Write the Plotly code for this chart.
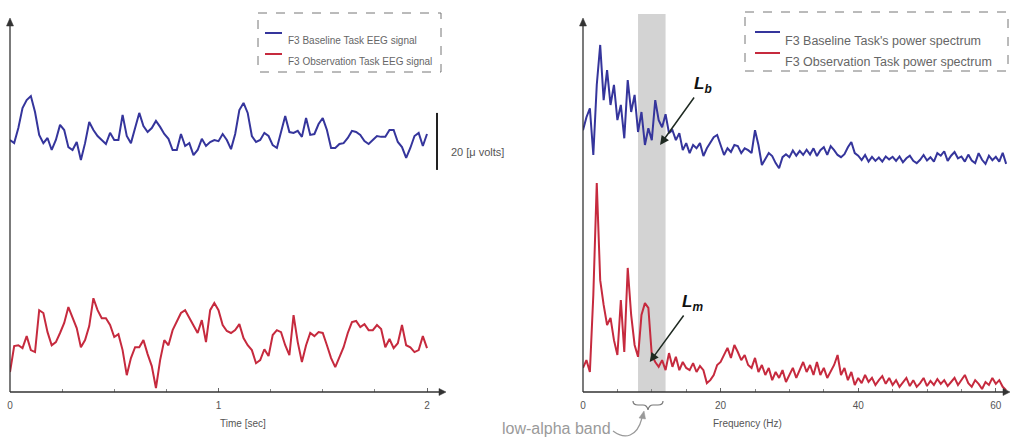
import numpy as np
import plotly.graph_objects as go

W, H = 1012, 438

# ---------------- data ----------------
time_s = np.round(np.arange(101) * 0.02, 2)          # 0 .. 2 s sample grid
freq_hz = np.round(np.arange(124) * 0.5, 1)          # 0 .. 61.5 Hz bins

eeg_baseline_uv = [
    0, -1.1, 4.2, 11.2, 14.0, 15.4, 9.8, 1.8, -1.1, 0.7,
    -3.5, 0, 5.3, 3.5, -2.5, -3.5, -0.7, -7.0, -1.1, 6.3,
    3.5, 1.4, 0, -1.4, 2.5, 0, 0, 8.8, 1.4, -1.1,
    4.2, 9.5, 4.9, 2.8, 4.2, 6.7, 4.6, 2.1, 0.4, -3.5,
    -3.5, 2.1, -2.1, -1.1, -5.3, -3.5, 0.4, -2.1, -0.7, 0,
    -0.4, 2.1, 0, -3.2, 2.1, 10.5, 13.0, 9.5, 1.4, -0.7,
    0, 2.5, 1.4, -1.8, -2.8, 2.5, 8.4, 2.8, 2.5, 3.2,
    1.1, 7.7, 1.8, 2.1, 5.6, 7.7, 3.5, -2.8, -2.8, -1.4,
    -1.1, 0.7, 3.2, 2.8, 1.8, -0.4, -1.4, 0, 1.4, 1.1,
    1.1, 3.5, 3.5, -0.7, -2.5, -6.3, -2.8, 1.4, 2.5, -2.1,
    2.1,
]

eeg_observation_uv = [
    -11.2, -2.1, -1.8, -2.8, 1.4, -3.5, -4.2, 10.5, 9.5, 2.8,
    -1.8, -0.7, 2.5, 6.0, 11.6, 7.7, 4.2, -2.5, 0, 4.9,
    14.7, 10.5, 7.7, 7.7, 5.3, 1.1, 2.1, -3.5, -12.3, -6.3,
    -2.5, -2.5, 0, -4.9, -9.1, -16.8, -7.0, 0, -1.8, 3.5,
    6.3, 9.5, 10.5, 7.7, 4.9, 2.5, 7.0, -0.7, 10.5, 13.0,
    10.5, 5.3, 3.2, 2.5, 3.5, 5.6, 0.7, -1.8, -3.5, -8.1,
    -7.0, -3.2, -5.6, 1.8, 3.5, 2.8, -1.8, -5.3, 8.8, -0.7,
    -7.7, -1.8, 2.5, 1.4, 2.8, 2.5, -1.8, -6.3, -9.5, -6.3,
    -2.5, 2.5, 6.3, 6.7, 4.6, 5.6, 3.5, 3.5, 5.3, 3.9,
    -2.5, 0.4, -2.8, -1.1, 5.3, -1.8, -2.5, -4.2, -3.5, 1.4,
    -2.8,
]

psd_baseline = [
    13.5, 17.0, 19.4, 6.8, 25.7, 36.5, 21.6, 29.7, 20.3, 25.7,
    16.2, 20.3, 11.3, 27.0, 18.4, 23.0, 13.0, 18.4, 9.5, 14.0,
    10.8, 21.6, 16.2, 14.3, 17.8, 12.7, 13.5, 10.8, 12.7, 8.1,
    10.0, 7.3, 9.5, 8.6, 10.0, 6.5, 8.6, 10.3, 11.6, 12.2,
    9.2, 6.8, 8.6, 7.6, 9.5, 9.2, 7.3, 8.6, 8.1, 7.3,
    13.5, 9.5, 4.1, 5.9, 7.3, 6.5, 4.6, 3.2, 6.2, 7.0,
    6.2, 8.0, 6.6, 7.9, 6.8, 8.2, 6.9, 8.6, 6.5, 8.1,
    8.9, 6.8, 9.2, 8.1, 6.8, 6.2, 7.0, 8.9, 10.3, 7.3,
    6.6, 5.4, 6.8, 5.0, 6.3, 5.2, 6.1, 5.0, 6.4, 5.6,
    6.3, 5.2, 6.4, 4.8, 5.9, 6.6, 5.2, 4.6, 5.5, 6.8,
    5.3, 6.2, 5.0, 7.3, 6.6, 7.8, 5.2, 6.6, 7.6, 5.9,
    6.4, 5.0, 6.9, 5.3, 4.6, 7.3, 5.5, 4.4, 6.6, 5.4,
    6.3, 5.0, 7.4, 4.4,
]

psd_observation = [
    6.5, 8.6, 5.4, 26.2, 56.4, 30.2, 23.5, 18.1, 20.0, 14.0,
    10.0, 24.8, 10.8, 33.5, 20.8, 12.7, 9.5, 20.8, 24.0, 22.7,
    10.0, 8.1, 6.8, 8.6, 5.9, 10.5, 6.8, 9.5, 5.9, 8.1,
    6.5, 5.9, 7.8, 5.4, 7.0, 5.9, 2.4, 3.2, 4.6, 7.3,
    8.1, 10.0, 11.9, 9.2, 12.7, 10.8, 8.6, 10.0, 7.3, 6.5,
    9.2, 5.4, 7.3, 4.6, 6.5, 3.2, 5.4, 3.8, 5.9, 2.7,
    4.6, 6.5, 3.8, 5.9, 8.1, 5.4, 7.3, 4.6, 8.1, 4.6,
    6.5, 3.8, 5.4, 7.3, 10.0, 4.6, 6.5, 3.2, 5.4, 1.9,
    3.8, 2.4, 4.6, 2.7, 3.8, 1.9, 3.2, 4.3, 2.2, 3.8,
    1.9, 3.2, 1.4, 2.7, 3.8, 1.6, 3.2, 1.4, 2.4, 3.8,
    1.6, 3.0, 1.9, 3.5, 2.2, 3.2, 1.6, 2.7, 3.8, 1.9,
    3.2, 4.6, 2.4, 1.4, 3.2, 2.2, 0.8, 2.7, 1.9, 3.8,
    2.2, 3.2, 1.4, 0.5,
]

series_names = [
    "F3 Baseline Task EEG signal",
    "F3 Observation Task EEG signal",
    "F3 Baseline Task's power spectrum",
    "F3 Observation Task power spectrum",
]
time_ticks = [0, 1, 2]
freq_ticks = [0, 20, 40, 60]
low_alpha_band_hz = [8, 12]
scale_bar_uv = 20

# ---------------- style / layout constants ----------------
BLUE = "#35359c"
RED = "#c62a3e"
AXC = "#333333"
TXT = "#555555"
FONT = "Liberation Sans, Arial, sans-serif"

EEG_OFFSET = {"base": 88.4, "obs": 18.2}     # channel display offsets (uV)
PSD_OFFSET = {"base": 57.2, "obs": 0.0}      # spectrum display offsets

X1_RANGE = [0, 2.0863]
Y1_RANGE = [0, 132.6]
X2_RANGE = [0, 61.77]
Y2_RANGE = [0, 102.06]


def PX(x):
    return x / W


def PY(y):
    return 1 - y / H


def tri(points):
    p = [f"{PX(x)},{PY(y)}" for x, y in points]
    return "M " + " L ".join(p) + " Z"


fig = go.Figure()

fig.add_trace(go.Scatter(x=time_s, y=np.array(eeg_baseline_uv) + EEG_OFFSET["base"],
                         mode="lines", line=dict(color=BLUE, width=2),
                         name=series_names[0], xaxis="x", yaxis="y"))
fig.add_trace(go.Scatter(x=time_s, y=np.array(eeg_observation_uv) + EEG_OFFSET["obs"],
                         mode="lines", line=dict(color=RED, width=2),
                         name=series_names[1], xaxis="x", yaxis="y"))
fig.add_trace(go.Scatter(x=freq_hz, y=np.array(psd_baseline) + PSD_OFFSET["base"],
                         mode="lines", line=dict(color=BLUE, width=2),
                         name=series_names[2], xaxis="x2", yaxis="y2"))
fig.add_trace(go.Scatter(x=freq_hz, y=np.array(psd_observation) + PSD_OFFSET["obs"],
                         mode="lines", line=dict(color=RED, width=2),
                         name=series_names[3], xaxis="x2", yaxis="y2"))

ydom = [PY(392), PY(14)]
common_x = dict(showgrid=False, zeroline=False, showline=False, automargin=False,
                ticks="inside", ticklen=4, tickwidth=1, tickcolor="#666",
                tickfont=dict(family=FONT, size=10, color=TXT), ticklabelstandoff=6)

fig.update_layout(
    width=W, height=H, margin=dict(l=0, r=0, t=0, b=0),
    paper_bgcolor="white", plot_bgcolor="rgba(0,0,0,0)",
    template="none", showlegend=False,
    font=dict(family=FONT, color=TXT),
    xaxis=dict(domain=[PX(10), PX(445)], range=X1_RANGE, anchor="y",
               tick0=0, dtick=1,
               minor=dict(ticks="inside", ticklen=3, dtick=0.25, tickcolor="#888"),
               **common_x),
    yaxis=dict(domain=ydom, range=Y1_RANGE, anchor="x", visible=False),
    xaxis2=dict(domain=[PX(583), PX(1008)], range=X2_RANGE, anchor="y2",
                tick0=0, dtick=20,
                minor=dict(ticks="inside", ticklen=3, dtick=5, tickcolor="#888"),
                **common_x),
    yaxis2=dict(domain=ydom, range=Y2_RANGE, anchor="x2", visible=False),
)

shapes = []
annotations = []

# low-alpha band
shapes.append(dict(type="rect", xref="x2", yref="paper",
                   x0=low_alpha_band_hz[0], x1=low_alpha_band_hz[1],
                   y0=PY(392), y1=PY(14), fillcolor="#d3d3d3",
                   line=dict(width=0), layer="below"))

# axes lines with arrowheads
for ox, xend in [(10, 440), (583, 1004)]:
    shapes.append(dict(type="line", xref="paper", yref="paper",
                       x0=PX(ox), x1=PX(xend), y0=PY(392), y1=PY(392),
                       line=dict(color=AXC, width=1.3)))
    shapes.append(dict(type="path", xref="paper", yref="paper",
                       path=tri([(xend + 6, 392), (xend - 1, 388.5), (xend - 1, 395.5)]),
                       fillcolor=AXC, line=dict(color=AXC, width=0.5)))
    shapes.append(dict(type="line", xref="paper", yref="paper",
                       x0=PX(ox), x1=PX(ox), y0=PY(392), y1=PY(25),
                       line=dict(color=AXC, width=1.3)))
    shapes.append(dict(type="path", xref="paper", yref="paper",
                       path=tri([(ox, 18), (ox - 3.5, 26), (ox + 3.5, 26)]),
                       fillcolor=AXC, line=dict(color=AXC, width=0.5)))

# axis titles
annotations.append(dict(xref="paper", yref="paper", x=PX(218), y=PY(431), text="Time [sec]",
                        showarrow=False, font=dict(size=10, color=TXT, family=FONT)))
annotations.append(dict(xref="paper", yref="paper", x=PX(784), y=PY(431), text="Frequency (Hz)",
                        showarrow=False, font=dict(size=10, color=TXT, family=FONT)))

# scale bar
shapes.append(dict(type="line", xref="x", yref="y", x0=2.048, x1=2.048,
                   y0=77.9, y1=77.9 + scale_bar_uv, line=dict(color="#222", width=2)))
annotations.append(dict(xref="paper", yref="paper", x=PX(449), y=PY(144),
                        text=f"{scale_bar_uv} [μ volts]", xanchor="left", showarrow=False,
                        font=dict(size=11, color=TXT, family=FONT)))

# legends (dashed boxes)
legend_specs = [
    dict(box=(258, 13, 441, 72), x0=265, x1=282, tx=286, ys=(33, 54), size=10,
         names=series_names[:2]),
    dict(box=(745, 12, 1008, 71), x0=755, x1=780, tx=783, ys=(32, 53), size=12.5,
         names=series_names[2:]),
]
for spec in legend_specs:
    bx0, by0, bx1, by1 = spec["box"]
    shapes.append(dict(type="rect", xref="paper", yref="paper",
                       x0=PX(bx0), x1=PX(bx1), y0=PY(by0), y1=PY(by1),
                       line=dict(color="#777", width=1, dash="dash")))
    for yy, name, col in zip(spec["ys"], spec["names"], [BLUE, RED]):
        shapes.append(dict(type="line", xref="paper", yref="paper",
                           x0=PX(spec["x0"]), x1=PX(spec["x1"]), y0=PY(yy), y1=PY(yy),
                           line=dict(color=col, width=2)))
        annotations.append(dict(xref="paper", yref="paper", x=PX(spec["tx"]), y=PY(yy),
                                text=name, xanchor="left", showarrow=False,
                                font=dict(size=spec["size"], color="#666", family=FONT)))

# L_b and L_m labels
annotations.append(dict(xref="x2", yref="y2", x=11.2, y=66.7, ax=43, ay=-60,
                        text="<b><i>L</i></b><sub><b><i>b</i></b></sub>",
                        showarrow=True, arrowhead=2, arrowsize=1.2, arrowwidth=1.5,
                        arrowcolor="#1f2a22", font=dict(size=17, color="#111", family=FONT)))
annotations.append(dict(xref="x2", yref="y2", x=9.7, y=8.1, ax=43, ay=-59,
                        text="<b><i>L</i></b><sub><b><i>m</i></b></sub>",
                        showarrow=True, arrowhead=2, arrowsize=1.2, arrowwidth=1.5,
                        arrowcolor="#1f2a22", font=dict(size=17, color="#111", family=FONT)))

# brace under band + low-alpha label with curly arrow
brace = (f"M {PX(633)},{PY(401)} Q {PX(633)},{PY(405)} {PX(638)},{PY(405)} "
         f"L {PX(643)},{PY(405)} Q {PX(647)},{PY(405)} {PX(648)},{PY(410)} "
         f"Q {PX(649)},{PY(405)} {PX(653)},{PY(405)} L {PX(658)},{PY(405)} "
         f"Q {PX(663)},{PY(405)} {PX(663)},{PY(401)}")
shapes.append(dict(type="path", xref="paper", yref="paper", path=brace,
                   line=dict(color="#777", width=1.2)))
curl = (f"M {PX(613)},{PY(431)} C {PX(625)},{PY(440)} {PX(637)},{PY(437)} {PX(642)},{PY(418)}")
shapes.append(dict(type="path", xref="paper", yref="paper", path=curl,
                   line=dict(color="#999", width=1.2)))
shapes.append(dict(type="path", xref="paper", yref="paper",
                   path=tri([(644, 411), (639, 418), (645.5, 419)]),
                   fillcolor="#999", line=dict(color="#999", width=0.5)))
annotations.append(dict(xref="paper", yref="paper", x=PX(612), y=PY(438), xanchor="right",
                        yanchor="bottom", text="low-alpha band", showarrow=False,
                        font=dict(size=16, color="#9a9a9a", family=FONT),
                        borderpad=0))

fig.update_layout(shapes=shapes, annotations=annotations)

fig.write_html("out.html")
